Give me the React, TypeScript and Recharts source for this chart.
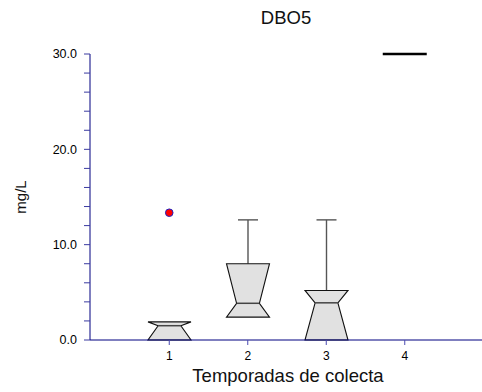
import { ComposedChart, Bar, Scatter, XAxis, YAxis } from 'recharts';

// Collection seasons and box statistics per season (mg/L)
const seasons = ['1', '2', '3', '4'];
const q1 = [0, 2.4, 0, null];
const median = [1.5, 3.85, 3.9, null];
const q3 = [1.9, 8.0, 5.2, null];
const upperWhisker = [null, 12.6, 12.6, null];
const outliers = [13.35, null, null, null];
const singleValue = [null, null, null, 30];
const yTicks = [0, 2, 4, 6, 8, 10, 12, 14, 16, 18, 20, 22, 24, 26, 28, 30];

const data = seasons.map((s, i) => ({
  season: s,
  q1: q1[i],
  median: median[i],
  q3: q3[i],
  whisker: upperWhisker[i],
  top: upperWhisker[i] ?? q3[i],
  outlier: outliers[i],
  single: singleValue[i],
}));

const FONT = '"Liberation Sans", Arial, sans-serif';
const AXIS = '#000080';

// notched box drawn over the bar's [q1, top] range
const NotchedBox = (props: any) => {
  const { x, y, width, height, payload } = props;
  if (payload == null || payload.q1 == null || !height) return <g />;
  const lo = payload.q1;
  const hi = payload.top;
  const yTop = Math.min(y, y + height);
  const yBot = Math.max(y, y + height);
  const py = (v: number) => yBot - ((v - lo) / (hi - lo)) * (yBot - yTop);
  const cx = x + width / 2;
  const hw = width / 2;
  const nw = hw * 0.53;
  const yq1 = py(payload.q1);
  const ymed = py(payload.median);
  const yq3 = py(payload.q3);
  const pts = [
    [cx - hw, yq1],
    [cx + hw, yq1],
    [cx + nw, ymed],
    [cx + hw, yq3],
    [cx - hw, yq3],
    [cx - nw, ymed],
  ]
    .map((p) => p.join(','))
    .join(' ');
  return (
    <g>
      {payload.whisker != null && (
        <g stroke="#555" strokeWidth={1.4}>
          <line x1={cx} x2={cx} y1={yq3} y2={py(payload.whisker)} />
          <line x1={cx - 10} x2={cx + 10} y1={py(payload.whisker)} y2={py(payload.whisker)} />
        </g>
      )}
      <polygon points={pts} fill="#e1e1e1" stroke="#111" strokeWidth={1.1} />
      <line x1={cx - nw} x2={cx + nw} y1={ymed} y2={ymed} stroke="#444" strokeWidth={1.5} />
    </g>
  );
};

const OutlierDot = (props: any) => {
  const { cx, cy, payload } = props;
  if (payload?.outlier == null || !isFinite(cy)) return <g />;
  return <circle cx={cx} cy={cy} r={3.8} fill="#ff0000" stroke="#2020c0" strokeWidth={1} />;
};

const LevelLine = (props: any) => {
  const { cx, cy, payload } = props;
  if (payload?.single == null || !isFinite(cy)) return <g />;
  return <line x1={cx - 22} x2={cx + 22} y1={cy} y2={cy} stroke="#000" strokeWidth={2.5} />;
};

export default function App() {
  // fixed frame so the page never grows past the window
  return (
    <div
      style={{
        position: 'fixed',
        left: 0,
        top: 0,
        width: 482,
        height: 392,
        overflow: 'hidden',
        background: '#fff',
        fontFamily: FONT,
      }}
    >
      <div style={{ position: 'absolute', left: 8, top: 8, width: 474, height: 384 }}>
        <div
          style={{
            position: 'absolute',
            left: 82,
            right: 0,
            top: 0,
            textAlign: 'center',
            fontSize: 18.5,
            lineHeight: '20px',
            color: '#111',
          }}
        >
          DBO5
        </div>
        <ComposedChart
          width={474}
          height={384}
          data={data}
          margin={{ top: 46, right: 0, bottom: 0, left: 0 }}
          barSize={43}
        >
          <XAxis
            dataKey="season"
            padding={{ left: 40, right: 38 }}
            height={52}
            stroke={AXIS}
            tickSize={5}
            tickMargin={6}
            tickLine={{ stroke: '#4a4ab0' }}
            tick={{ fill: '#000', fontSize: 12, fontFamily: FONT }}
            label={{
              value: 'Temporadas de colecta',
              position: 'insideBottom',
              offset: 10,
              dx: 2,
              style: { fontSize: 18.5, fill: '#111', fontFamily: FONT },
            }}
          />
          <YAxis
            type="number"
            domain={[0, 30]}
            ticks={yTicks}
            interval={0}
            width={82}
            stroke={AXIS}
            tickSize={6}
            tickMargin={7}
            tickLine={{ stroke: '#3a3aa0' }}
            tickFormatter={(v: number) => (v % 10 === 0 ? v.toFixed(1) : '')}
            tick={{ fill: '#000', fontSize: 12.5, fontFamily: FONT }}
            label={{
              value: 'mg/L',
              angle: -90,
              position: 'insideLeft',
              offset: 13,
              style: { textAnchor: 'middle', fontSize: 15, fill: '#111', fontFamily: FONT },
            }}
          />
          <Bar
            dataKey={(d: any) => (d.q1 == null ? null : [d.q1, d.top])}
            shape={NotchedBox}
            isAnimationActive={false}
          />
          <Scatter dataKey="outlier" shape={OutlierDot} isAnimationActive={false} />
          <Scatter dataKey="single" shape={LevelLine} isAnimationActive={false} />
        </ComposedChart>
      </div>
    </div>
  );
}
